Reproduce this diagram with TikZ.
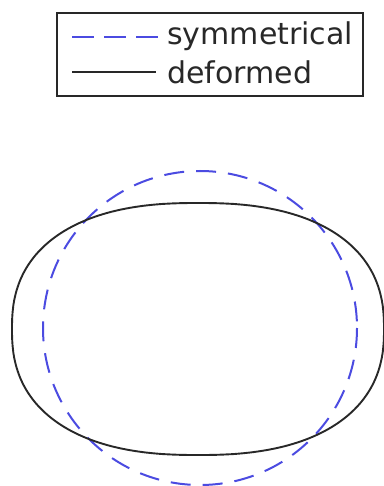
\documentclass[tikz,border=0pt]{standalone}
\usepackage{fontspec}
\usepackage{tikz}
\newfontfamily\legfont{DejaVu Sans}
\definecolor{symblue}{RGB}{75,75,225}
\definecolor{defgray}{RGB}{40,40,40}
\tikzset{
  symline/.style={symblue, line width=2pt, dash pattern=on 20pt off 12pt},
  defline/.style={defgray, line width=1.9pt},
  legtext/.style={anchor=base west, inner sep=0pt, font=\legfont\fontsize{30}{36}\selectfont, text=defgray}
}
\begin{document}
\begin{tikzpicture}[x=1pt,y=-1pt]
\useasboundingbox (0,0) rectangle (383,486);
% legend
\draw[defgray, line width=1.9pt] (57,13) rectangle (363,96);
\coordinate (d1) at (72,37);
\coordinate (d2) at (158,37);
\coordinate (s1) at (72,72);
\coordinate (s2) at (156,72);
\draw[symblue, line width=2pt, dash pattern=on 22pt off 10pt] (d1) -- (d2);
\draw[defline] (s1) -- (s2);
\node[legtext] (tsym) at (167,45) {symmetrical};
\node[legtext] (tdef) at (167,84) {deformed};
% symmetrical circle
\draw[symline] (200,328) circle[radius=157];
% deformed shape (superellipse, n = 2.4)
\draw[defline] plot[domain=0.5:359.5, samples=360, smooth, variable=\t]
  ({198+186*sign(cos(\t))*exp(0.8333*ln(abs(cos(\t))))},
   {329-126*sign(sin(\t))*exp(0.8333*ln(abs(sin(\t))))}) -- cycle;
\end{tikzpicture}
\end{document}
